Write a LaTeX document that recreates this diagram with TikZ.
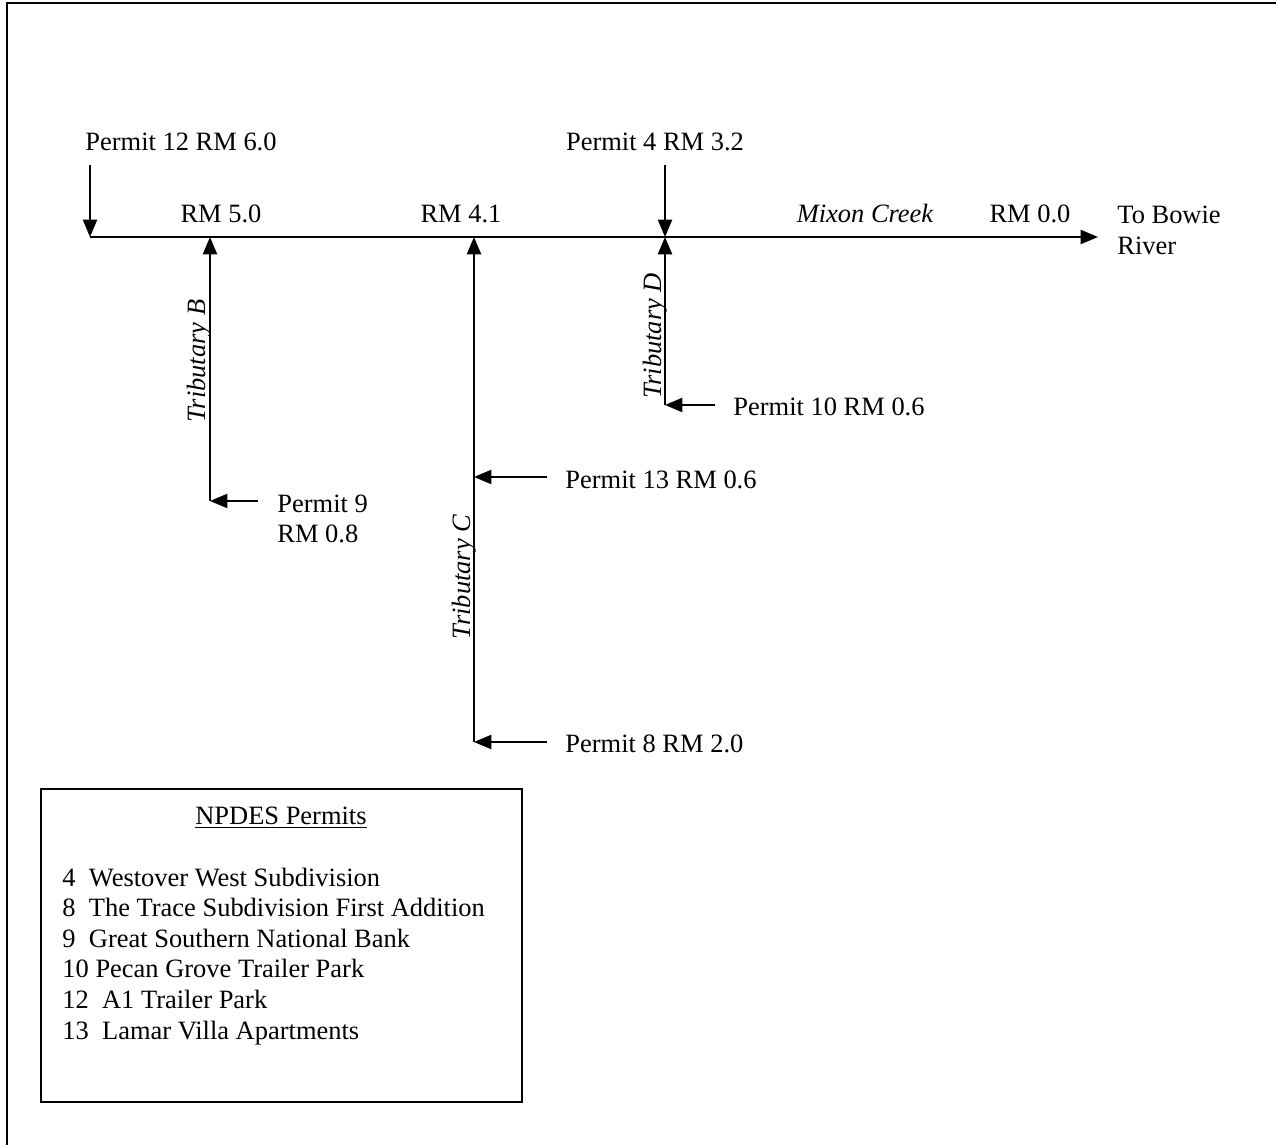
\documentclass[tikz,border=0pt]{standalone}
\usepackage{fontspec}
\setmainfont{Liberation Serif}
\usetikzlibrary{positioning,arrows.meta}

\begin{document}
\begin{tikzpicture}[x=0.461pt, y=-0.461pt,
  lbl/.style={inner sep=0pt, font=\fontsize{12.2}{14}\selectfont},
  flow/.style={line width=0.9pt, -{Triangle[length=8pt,width=6.5pt]}},
  trib/.style={inner sep=0pt, font=\fontsize{12.2}{14}\selectfont\itshape, rotate=90, anchor=base}]
  \useasboundingbox (0,0) rectangle (1276,1145);
  \draw[line width=1pt] (7,1145) -- (7,3) -- (1276,3);

  % main stem
  \coordinate (j12) at (90,237);
  \coordinate (jB) at (210,237);
  \coordinate (jC) at (474,237);
  \coordinate (jD) at (665,237);
  \coordinate (mouth) at (1098,237);
  \draw[flow] (j12) -- (mouth);

  \node[lbl, anchor=base] (rm5) at (221,223) {RM 5.0};
  \node[lbl, anchor=base] (rm4) at (461,223) {RM 4.1};
  \node[lbl, anchor=base] (creek) at (865,222) {\itshape Mixon Creek};
  \node[lbl, anchor=base] (rm0) at (1030,222) {RM 0.0};
  \node[lbl, anchor=base west, align=left] (bowie) at (1117,254) {To Bowie\\River};

  % permits on the main stem
  \coordinate (s12) at (90,165);
  \coordinate (s4) at (665,165);
  \node[lbl, anchor=base west] (p12) at (85,151) {Permit 12 RM 6.0};
  \node[lbl, anchor=base] (p4) at (655,151) {Permit 4 RM 3.2};
  \draw[flow] (s12) -- (j12);
  \draw[flow] (s4) -- (jD);

  % tributary B
  \coordinate (eB) at (210,501);
  \draw[flow] (eB) -- (jB);
  \node[trib] (tB) at (205,361) {Tributary B};
  \coordinate (s9) at (258,501);
  \draw[flow] (s9) -- (eB);
  \node[lbl, anchor=base west] (p9a) at (277,512) {Permit 9};
  \node[lbl, anchor=base west] (p9b) at (277,542) {RM 0.8};

  % tributary C
  \coordinate (eC) at (474,742);
  \coordinate (jC13) at (474,477);
  \draw[flow] (eC) -- (jC);
  \node[trib] (tC) at (470,577) {Tributary C};
  \coordinate (s13) at (547,477);
  \coordinate (s8) at (547,742);
  \draw[flow] (s13) -- (jC13);
  \draw[flow] (s8) -- (eC);
  \node[lbl, anchor=base west] (p13) at (565,488) {Permit 13 RM 0.6};
  \node[lbl, anchor=base west] (p8) at (565,752) {Permit 8 RM 2.0};

  % tributary D
  \coordinate (eD) at (665,405);
  \draw[flow] (eD) -- (jD);
  \node[trib] (tD) at (661,336) {Tributary D};
  \coordinate (s10) at (715,405);
  \draw[flow] (s10) -- (eD);
  \node[lbl, anchor=base west] (p10) at (733,416) {Permit 10 RM 0.6};

  % legend
  \draw[line width=0.8pt] (41,789) rectangle (522,1102);
  \node[lbl, anchor=base] (leg) at (281,824) {\underline{NPDES Permits}};
  \foreach \t [count=\i] in {4~~Westover West Subdivision,
      8~~The Trace Subdivision First Addition,
      9~~Great Southern National Bank,
      10 Pecan Grove Trailer Park,
      12~~A1 Trailer Park,
      13~~Lamar Villa Apartments}
    \node[lbl, anchor=base west] (l\i) at (62,{855.4+30.6*\i}) {\t};
\end{tikzpicture}
\end{document}
